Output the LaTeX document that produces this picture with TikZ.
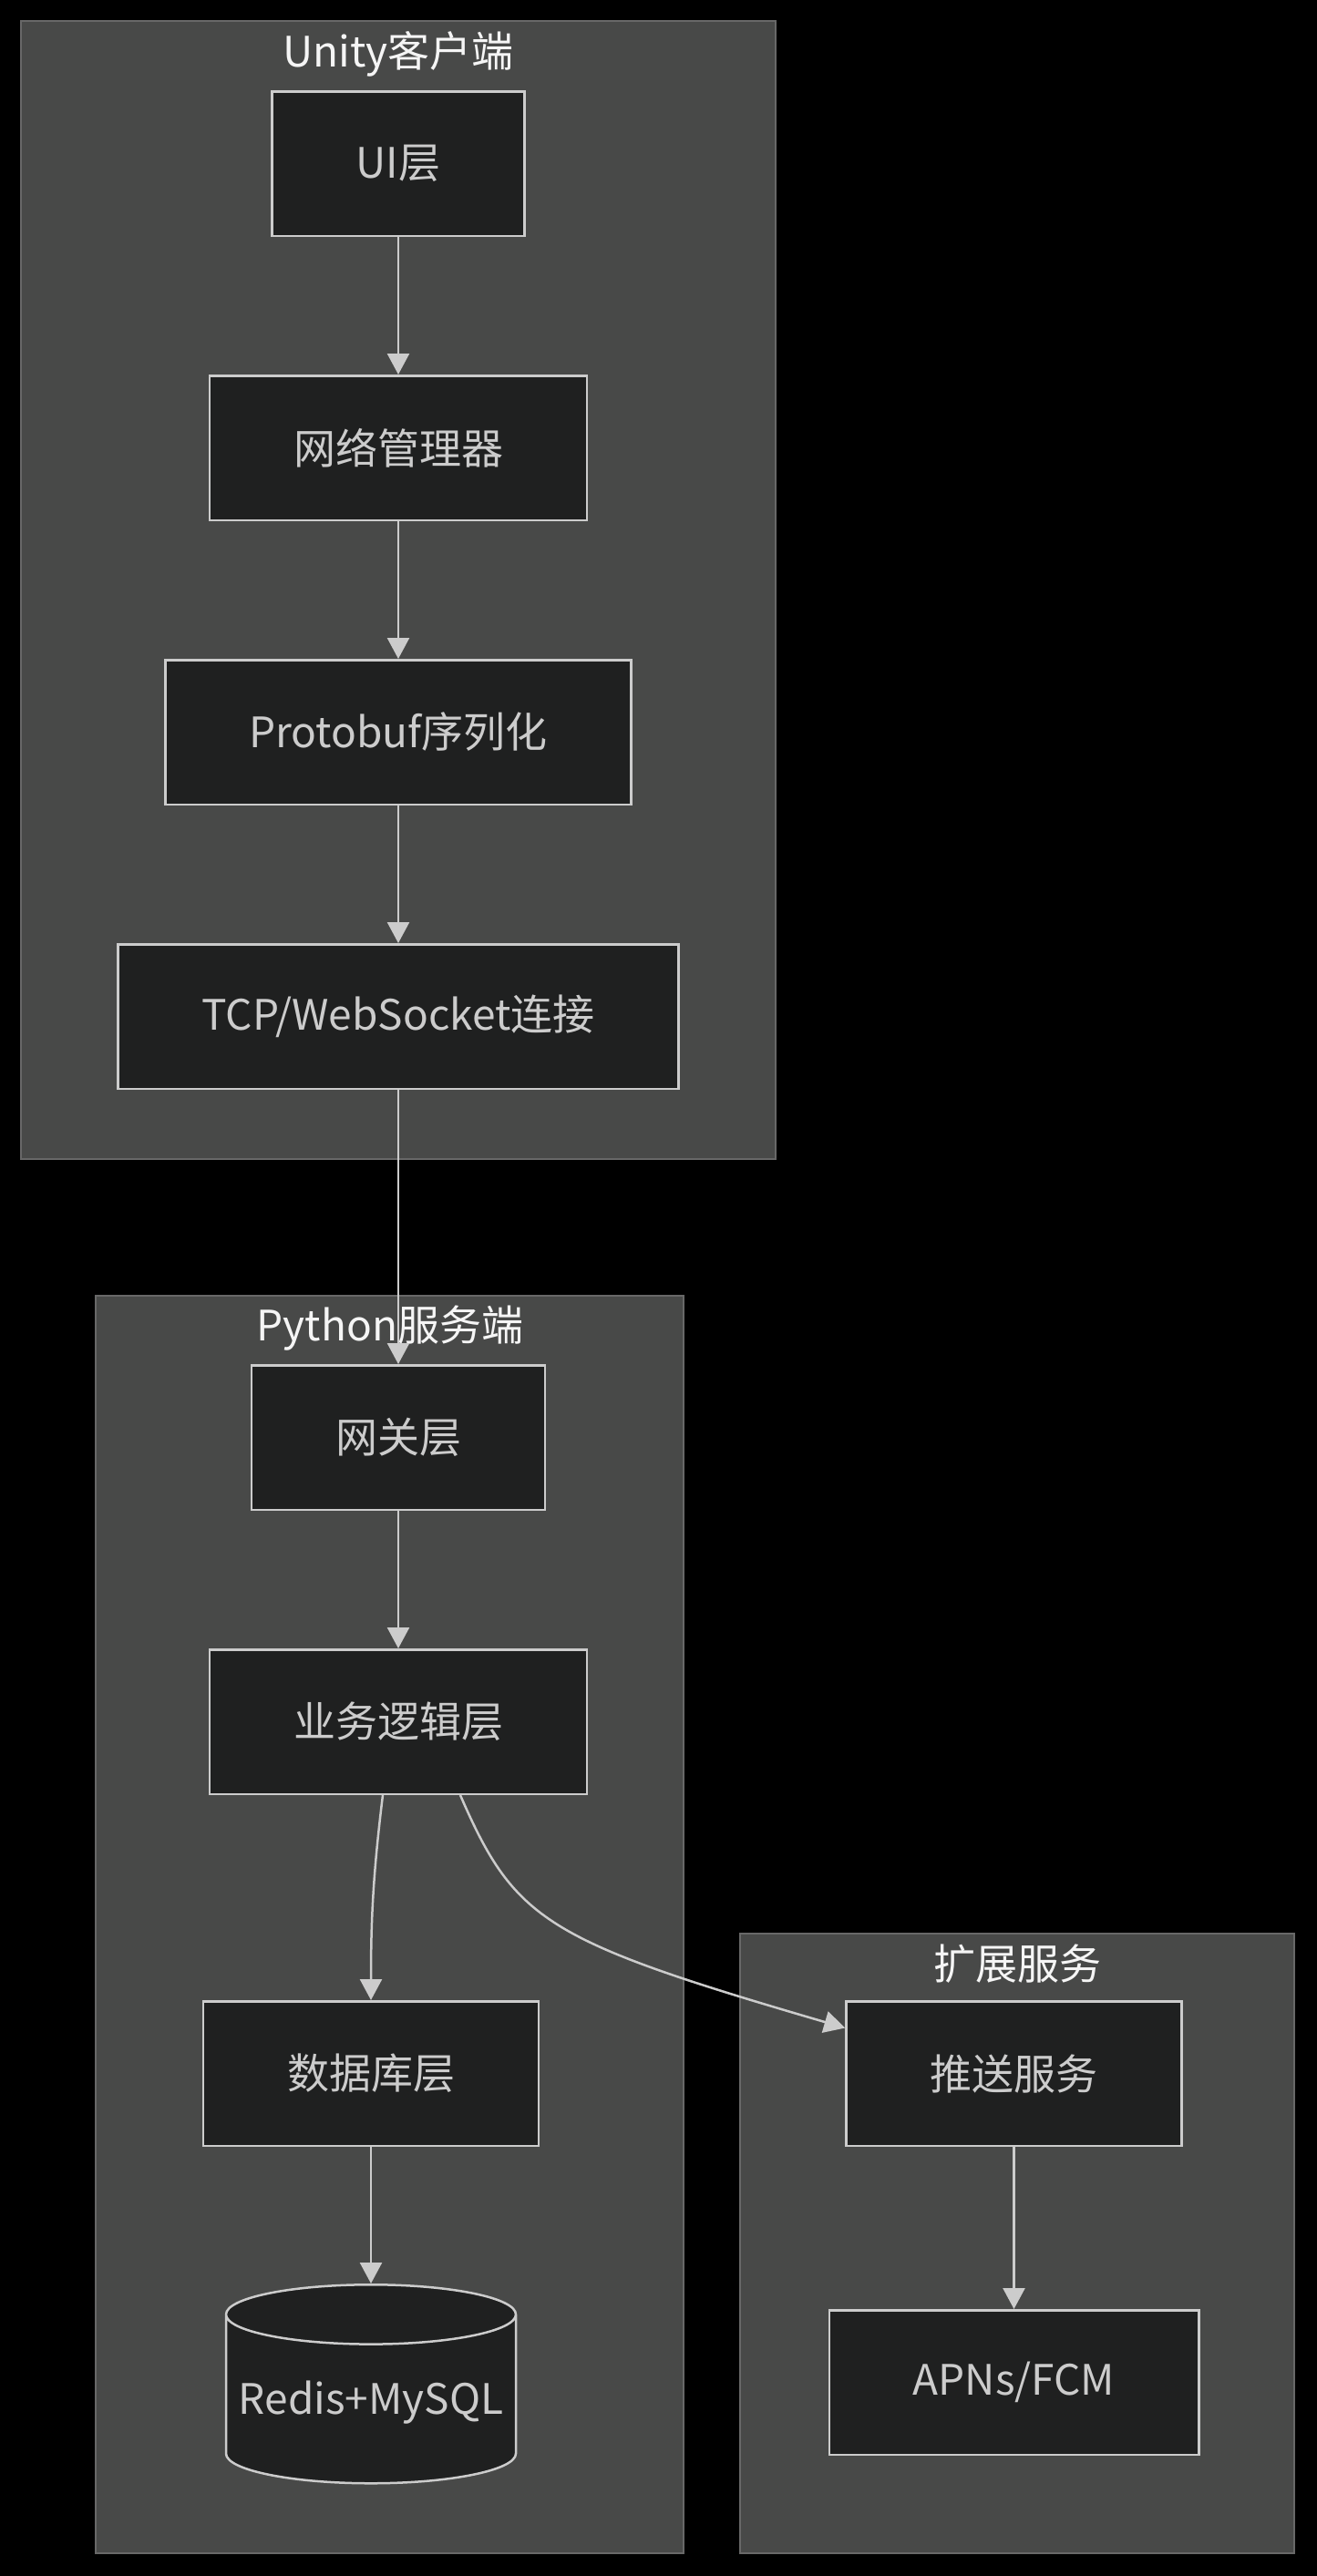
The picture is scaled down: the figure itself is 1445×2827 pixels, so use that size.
\documentclass[tikz,border=0pt]{standalone}
\usepackage{fontspec}
\setmainfont{Noto Sans CJK SC}
\usetikzlibrary{arrows.meta,positioning,shapes.geometric}

\definecolor{clusterfill}{RGB}{72,73,72}
\definecolor{clusterline}{RGB}{104,104,104}
\definecolor{boxfill}{RGB}{31,32,32}
\definecolor{boxline}{RGB}{204,204,204}
\definecolor{titletext}{RGB}{245,245,245}

\begin{document}
\begin{tikzpicture}[x=1pt, y=-1pt, >={Triangle[length=23pt,width=24pt]},
  cluster/.style={fill=clusterfill, draw=clusterline, line width=2pt},
  clustertitle/.style={text=titletext, font=\fontsize{46}{52}\selectfont, inner sep=0pt},
  layer/.style={rectangle, fill=boxfill, draw=boxline, line width=2.5pt, text=boxline,
    font=\fontsize{46}{52}\selectfont, minimum height=158.5pt, inner xsep=92pt},
  store/.style={cylinder, shape border rotate=90, shape aspect=0.22, fill=boxfill, draw=boxline,
    line width=2.5pt, text=boxline, font=\fontsize{46}{52}\selectfont,
    minimum width=318pt, minimum height=218pt},
  flow/.style={->, draw=boxline, line width=2.5pt}]
  \useasboundingbox[fill=black] (0,0) rectangle (1445,2827);

  % clusters
  \draw[cluster] (23,23) rectangle (851,1272);
  \draw[cluster] (105,1422) rectangle (750,2802);
  \draw[cluster] (812,2122) rectangle (1420,2802);
  \node[clustertitle] (unity) at (437,59) {Unity客户端};
  \node[clustertitle] (python) at (428,1458) {Python服务端};
  \node[clustertitle] (ext) at (1116,2155) {扩展服务};

  % client
  \node[layer] (ui) at (437,179.5) {UI层};
  \node[layer] (net) [below=151pt of ui] {网络管理器};
  \node[layer] (proto) [below=151pt of net] {Protobuf序列化};
  \node[layer] (tcp) [below=151pt of proto] {TCP/WebSocket连接};

  % server
  \node[layer] (gate) [below=301pt of tcp] {网关层};
  \node[layer] (biz) [below=151pt of gate] {业务逻辑层};
  \node[layer] (db) [below=225pt of biz, xshift=-30pt] {数据库层};
  \node[store] (redis) [below=150pt of db] {Redis+MySQL};

  % extensions
  \node[layer] (push) [right=335pt of db] {推送服务};
  \node[layer] (apns) [below=178pt of push] {APNs/FCM};

  \draw[flow] (ui) -- (net);
  \draw[flow] (net) -- (proto);
  \draw[flow] (proto) -- (tcp);
  \draw[flow] (tcp) -- (gate);
  \draw[flow] (gate) -- (biz);
  \draw[flow] ([xshift=-17pt]biz.south) to[out=-97, in=90] (db.north);
  \draw[flow] ([xshift=68pt]biz.south) .. controls +(60,138) and +(-329,-96) .. ([yshift=50pt]push.west);
  \draw[flow] (db) -- (redis);
  \draw[flow] (push) -- (apns);
\end{tikzpicture}
\end{document}
